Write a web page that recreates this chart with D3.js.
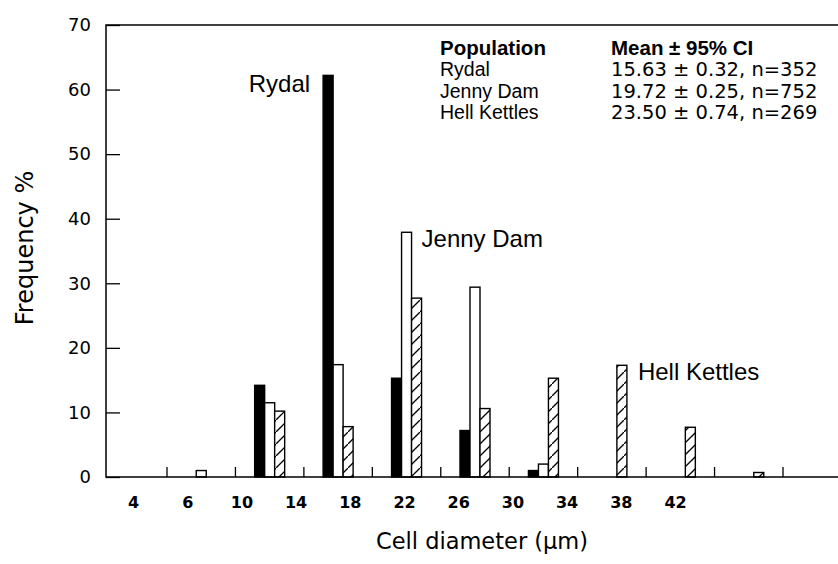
<!DOCTYPE html>
<html>
<head>
<meta charset="utf-8">
<script src="https://cdnjs.cloudflare.com/ajax/libs/d3/7.8.5/d3.min.js"></script>
<style>
  body { margin: 0; background: #fff; }
  svg { display: block; }
  .word { font-family: "Liberation Sans", Arial, sans-serif; }
  .num { font-family: "DejaVu Sans", sans-serif; }
</style>
</head>
<body>
<svg id="chart" width="838" height="564"></svg>
<script>
// diameter classes (bin midpoints, um) and % frequency per population
var bins = [7, 11, 15, 19, 23, 27, 31, 35, 39];
var rydal = [0, 14.2, 62.2, 15.3, 7.2, 1.0, 0, 0, 0];
var jennyDam = [1.0, 11.5, 17.4, 37.9, 29.4, 2.0, 0, 0, 0];
var hellKettles = [0, 10.2, 7.8, 27.7, 10.6, 15.3, 17.3, 7.7, 0.7];

var xTickLabels = ["4", "6", "10", "14", "18", "22", "26", "30", "34", "38", "42"];
var yTicks = [0, 10, 20, 30, 40, 50, 60, 70];

var populations = ["Rydal", "Jenny Dam", "Hell Kettles"];
var stats = ["15.63 \u00b1 0.32, n=352", "19.72 \u00b1 0.25, n=752", "23.50 \u00b1 0.74, n=269"];

// which bin each series label sits beside
var labelBins = {"Rydal": 15, "Jenny Dam": 19, "Hell Kettles": 31};

var series = [
  {name: "Rydal", values: rydal},
  {name: "Jenny Dam", values: jennyDam},
  {name: "Hell Kettles", values: hellKettles}
];

var plotLeft = 106, plotRight = 838, plotTop = 25, plotBottom = 477;

var svg = d3.select("#chart");

// hatch for Hell Kettles
var pat = svg.append("defs").append("pattern")
  .attr("id", "hatch")
  .attr("patternUnits", "userSpaceOnUse")
  .attr("width", 12)
  .attr("height", 12);
pat.append("rect").attr("width", 12).attr("height", 12).attr("fill", "#fff");
pat.append("path")
  .attr("d", "M-3,15 L15,-3")
  .attr("stroke", "#000")
  .attr("stroke-width", 1.3);

var x = d3.scaleBand()
  .domain(bins)
  .range([167, 783])
  .padding(0);

var inner = d3.scaleBand()
  .domain(populations)
  .range([-15, 15]);

var y = d3.scaleLinear()
  .domain([0, 70])
  .range([plotBottom, plotTop]);

var fills = {"Rydal": "#000", "Jenny Dam": "#fff", "Hell Kettles": "url(#hatch)"};

function barX(bin, name) {
  return x(bin) + x.bandwidth() / 2 + inner(name);
}

// bars
series.forEach(function(s) {
  var pts = s.values.map(function(v, i) { return {bin: bins[i], v: v}; })
    .filter(function(d) { return d.v > 0; });
  svg.append("g").selectAll("rect")
    .data(pts)
    .enter().append("rect")
      .attr("x", function(d) { return barX(d.bin, s.name); })
      .attr("y", function(d) { return y(d.v); })
      .attr("width", inner.bandwidth())
      .attr("height", function(d) { return plotBottom - y(d.v); })
      .style("fill", fills[s.name])
      .style("stroke", "#000")
      .style("stroke-width", 1.4);
});

// frame: top, left and bottom lines
svg.append("path")
  .attr("d", "M" + plotRight + "," + plotTop + "H" + plotLeft + "V" + plotBottom + "H" + plotRight)
  .attr("fill", "none")
  .attr("stroke", "#000")
  .attr("stroke-width", 1.5);

// y axis, ticks point inward
var yAxis = d3.axisLeft(y)
  .tickValues(yTicks)
  .tickSizeInner(-14)
  .tickSizeOuter(0)
  .tickPadding(15);

var gy = svg.append("g")
  .attr("transform", "translate(" + plotLeft + ",0)")
  .call(yAxis);
gy.select(".domain").remove();
gy.selectAll("line").attr("stroke-width", 1.3);
gy.selectAll("text")
  .attr("class", "num")
  .style("font-size", "18px")
  .attr("fill", "#000");

// x tick marks at class boundaries
var edges = bins.map(function(b) { return x(b); }).concat([x.range()[1]]);
svg.append("g").selectAll("line")
  .data(edges)
  .enter().append("line")
    .attr("x1", function(d) { return d; })
    .attr("x2", function(d) { return d; })
    .attr("y1", plotBottom)
    .attr("y2", plotBottom - 10)
    .attr("stroke", "#000")
    .attr("stroke-width", 1.3);

// x tick labels (printed on their own spacing)
var xl = d3.scalePoint()
  .domain(xTickLabels)
  .range([133, 675]);

var gx = svg.append("g")
  .attr("transform", "translate(0," + plotBottom + ")")
  .call(d3.axisBottom(xl).tickSize(0).tickPadding(20));
gx.select(".domain").remove();
gx.selectAll("text")
  .attr("class", "num")
  .style("font-size", "16px")
  .style("font-weight", "bold")
  .attr("fill", "#000");

// axis titles
svg.append("text")
  .attr("class", "num")
  .attr("x", 482)
  .attr("y", 549)
  .attr("text-anchor", "middle")
  .style("font-size", "22.5px")
  .text("Cell diameter (\u03bcm)");

svg.append("text")
  .attr("class", "num")
  .attr("transform", "translate(33,248) rotate(-90)")
  .attr("text-anchor", "middle")
  .style("font-size", "24px")
  .text("Frequency %");

// series labels beside their bars
var rB = labelBins["Rydal"];
svg.append("text")
  .attr("class", "word")
  .attr("x", barX(rB, "Rydal") - 13)
  .attr("y", y(rydal[bins.indexOf(rB)]) + 17)
  .attr("text-anchor", "end")
  .style("font-size", "24px")
  .text("Rydal");

var jB = labelBins["Jenny Dam"];
svg.append("text")
  .attr("class", "word")
  .attr("x", barX(jB, "Jenny Dam") + inner.bandwidth() + 10)
  .attr("y", y(jennyDam[bins.indexOf(jB)]) + 15)
  .style("font-size", "24px")
  .text("Jenny Dam");

var hB = labelBins["Hell Kettles"];
svg.append("text")
  .attr("class", "word")
  .attr("x", barX(hB, "Hell Kettles") + inner.bandwidth() + 11)
  .attr("y", y(hellKettles[bins.indexOf(hB)]) + 15)
  .style("font-size", "24px")
  .text("Hell Kettles");

// stats table
var table = svg.append("g");
table.append("text")
  .attr("class", "word")
  .attr("x", 440).attr("y", 55)
  .style("font-size", "20.5px")
  .style("font-weight", "bold")
  .text("Population");
table.append("text")
  .attr("class", "word")
  .attr("x", 611).attr("y", 55)
  .style("font-size", "20.5px")
  .style("font-weight", "bold")
  .text("Mean \u00b1 95% CI");

var rowY = d3.scalePoint().domain(populations).range([76, 119]);

table.selectAll("text.pop")
  .data(populations)
  .enter().append("text")
    .attr("class", "word pop")
    .attr("x", 440)
    .attr("y", function(d) { return rowY(d); })
    .style("font-size", "19.5px")
    .text(function(d) { return d; });

table.selectAll("text.stat")
  .data(stats)
  .enter().append("text")
    .attr("class", "num stat")
    .attr("x", 611)
    .attr("y", function(d, i) { return rowY(populations[i]); })
    .style("font-size", "19.5px")
    .text(function(d) { return d; });
</script>
</body>
</html>
